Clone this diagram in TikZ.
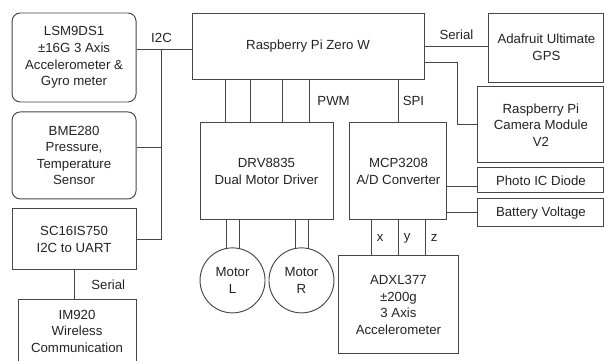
\documentclass[tikz,border=0pt]{standalone}
\usepackage{fontspec}
\setmainfont{Liberation Sans}
\usepackage{xcolor}
\usepackage{tikz}
\usetikzlibrary{positioning}
\definecolor{linegray}{RGB}{70,70,70}
\definecolor{textgray}{RGB}{35,35,35}
\tikzset{
  block/.style={rectangle, draw=linegray, line width=0.8pt, align=center,
    text=textgray, inner sep=2pt, font=\fontsize{11.3}{14.2}\selectfont},
  sensorblock/.style={block, rounded corners=7pt},
  motorblock/.style={circle, draw=linegray, line width=0.8pt, align=center,
    minimum size=1.95cm, inner sep=0pt, text=textgray, font=\fontsize{11.3}{14.2}\selectfont},
  wire/.style={draw=linegray, line width=0.8pt},
  wirelabel/.style={text=textgray, font=\fontsize{11.3}{14.2}\selectfont},
}
\begin{document}
\begin{tikzpicture}
  \useasboundingbox (0,0) rectangle (18.21,-10.83);
  \node[block, minimum width=6.96cm, minimum height=1.98cm] (pi) at (9.24,-1.38) {Raspberry Pi Zero W};
  \node[sensorblock, left=1.65cm of pi.north west, anchor=north east, minimum width=3.72cm, minimum height=2.67cm] (lsm) {LSM9DS1\\±16G 3 Axis\\Accelerometer \&\\Gyro meter};
  \node[sensorblock, below=0.27cm of lsm.south east, anchor=north east, minimum width=3.72cm, minimum height=2.61cm] (bme) {BME280\\Pressure,\\Temperature\\Sensor};
  \node[block, below=0.27cm of bme.south east, anchor=north east, minimum width=3.72cm, minimum height=1.83cm] (sc16) {SC16IS750\\I2C to UART};
  \node[block, below=0.87cm of sc16.south east, anchor=north east, minimum width=3.54cm, minimum height=1.89cm] (im920) {IM920\\Wireless\\Communication};
  \node[block, right=1.92cm of pi.north east, anchor=north west, minimum width=3.45cm, minimum height=2.07cm] (gps) {Adafruit Ultimate\\GPS};
  \node[block, below=0.12cm of gps.south east, anchor=north east, minimum width=3.78cm, minimum height=2.28cm] (cam) {Raspberry Pi\\Camera Module\\V2};
  \node[block, below=0.12cm of cam.south east, anchor=north east, minimum width=3.78cm, minimum height=0.75cm] (photo) {Photo IC Diode};
  \node[block, below=0.15cm of photo, minimum width=3.78cm, minimum height=0.84cm] (batt) {Battery Voltage};
  \node[block, below right=1.29cm and 0.24cm of pi.south west, minimum width=3.99cm, minimum height=2.91cm] (drv) {DRV8835\\Dual Motor Driver};
  \node[block, right=0.48cm of drv, minimum width=2.91cm, minimum height=2.91cm] (mcp) {MCP3208\\A/D Converter};
  \node[block, below=1.05cm of mcp, minimum width=3.6cm, minimum height=2.94cm] (adxl) {ADXL377\\±200g\\3 Axis\\Accelerometer};
  \node[motorblock, below=0.81cm of drv.south west, anchor=north, xshift=0.99cm] (motl) {Motor\\L};
  \node[motorblock, right=0.09cm of motl] (motr) {Motor\\R};

  \coordinate[right=0.75cm of lsm.east] (bus);
  \coordinate (i2c) at ([yshift=-0.09cm]pi.west);
  \draw[wire] (i2c) -- (i2c -| lsm.east);
  \draw[wire] (bus |- i2c) node[wirelabel, above=2pt] {I2C} -- (bus |- sc16.east);
  \draw[wire] ([yshift=0.25cm]bme.east) -- ([yshift=0.25cm]bme.east -| bus);
  \draw[wire] (sc16.east) -- (sc16.east -| bus);
  \draw[wire] (sc16.south) -- (sc16.south |- im920.north) node[midway, wirelabel, right=11pt] {Serial};
  \draw[wire] (pi.east) -- (pi.east -| gps.west) node[midway, wirelabel, above=2pt] {Serial};
  \coordinate[left=0.6cm of cam.west] (camturn);
  \draw[wire] ([yshift=-0.48cm]pi.east) -| (camturn) -- (cam.west);
  \foreach \dx in {0.78,1.53,2.49}
    \draw[wire] ([xshift=\dx cm]drv.north west) -- ([xshift=\dx cm]drv.north west |- pi.south);
  \draw[wire] ([xshift=3.3cm]drv.north west) -- ([xshift=3.3cm]drv.north west |- pi.south) node[midway, wirelabel, right=3pt] {PWM};
  \draw[wire] (mcp.north) -- (mcp.north |- pi.south) node[midway, wirelabel, right] {SPI};
  \draw[wire] ([yshift=-0.18cm]photo.west) -- ([yshift=-0.18cm]photo.west -| mcp.east);
  \draw[wire] (batt.west) -- (batt.west -| mcp.east);
  \foreach \m in {motl,motr}
    \foreach \a in {78,101}
      \draw[wire] (\m.\a) -- (\m.\a |- drv.south);
  \foreach \dx/\lbl in {-0.81/x,0/y,0.81/z}
    \draw[wire] ([xshift=\dx cm]adxl.north) -- ([xshift=\dx cm]adxl.north |- mcp.south) node[midway, wirelabel, right=1pt] {\lbl};
\end{tikzpicture}
\end{document}
